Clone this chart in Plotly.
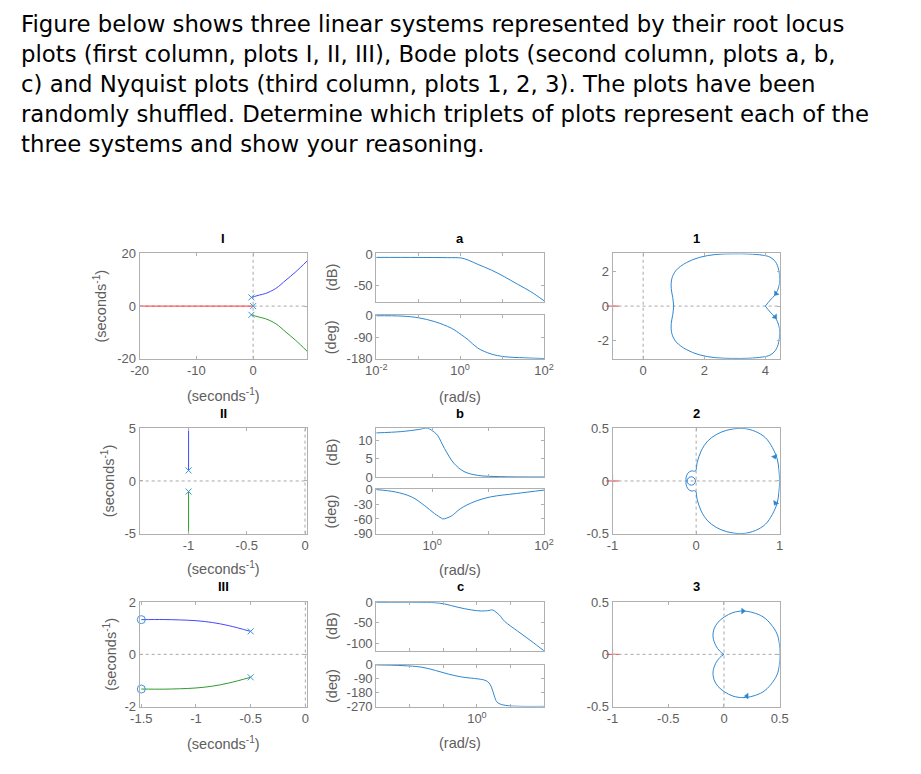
import plotly.graph_objects as go

W, H = 921, 774

# ---------------- text ----------------
intro_lines = [
    "Figure below shows three linear systems represented by their root locus",
    "plots (first column, plots I, II, III), Bode plots (second column, plots a, b,",
    "c) and Nyquist plots (third column, plots 1, 2, 3). The plots have been",
    "randomly shuffled. Determine which triplets of plots represent each of the",
    "three systems and show your reasoning.",
]
rl_titles = ["I", "II", "III"]
bode_titles = ["a", "b", "c"]
nyq_titles = ["1", "2", "3"]

# ---------------- Root locus I ----------------
rl1_blue_x = [-0.3, 0.3, 1.1, 2.2, 4.0, 5.8, 7.5, 9.5]
rl1_blue_y = [3.3, 3.7, 4.2, 4.8, 6.7, 9.9, 13.0, 17.1]
rl1_green_x = [-0.3, 0.3, 1.1, 2.2, 4.0, 5.8, 7.5, 9.5]
rl1_green_y = [-3.3, -3.7, -4.2, -4.8, -6.7, -9.9, -13.0, -17.1]
rl1_red_x = [0.0, -20.0]
rl1_red_y = [0.0, 0.0]
rl1_poles_x = [-0.3, 0.0, -0.3]
rl1_poles_y = [3.3, 0.0, -3.3]

# ---------------- Root locus II ----------------
rl2_blue_x = [-1.0, -1.0]
rl2_blue_y = [1.0, 5.0]
rl2_green_x = [-1.0, -1.0]
rl2_green_y = [-1.0, -5.0]
rl2_poles_x = [-1.0, -1.0]
rl2_poles_y = [1.0, -1.0]

# ---------------- Root locus III ----------------
rl3_blue_x = [-0.5, -0.7, -0.85, -1.0, -1.15, -1.3, -1.5]
rl3_blue_y = [0.88, 1.1, 1.22, 1.29, 1.32, 1.335, 1.33]
rl3_green_x = [-0.5, -0.7, -0.85, -1.0, -1.15, -1.3, -1.5]
rl3_green_y = [-0.88, -1.1, -1.22, -1.29, -1.32, -1.335, -1.33]
rl3_poles_x = [-0.5, -0.5]
rl3_poles_y = [0.88, -0.88]
rl3_zeros_x = [-1.5, -1.5]
rl3_zeros_y = [1.33, -1.33]

# ---------------- Bode a ----------------
ba_mag_w = [0.01, 0.1, 0.5, 1.07, 1.55, 2.63, 5.5, 11.2, 23.4, 47.9, 100]
ba_mag_db = [-5.2, -5.3, -5.6, -6.2, -9.4, -16.1, -25.0, -35.4, -47.4, -58.9, -73.4]
ba_ph_w = [0.01, 0.041, 0.1, 0.25, 0.62, 1.07, 1.55, 2.63, 5.5, 11.2, 34.0, 100]
ba_ph_deg = [0, -1.4, -8.3, -25, -52.6, -80, -101, -136, -161, -172, -177, -180]

# ---------------- Bode b ----------------
bb_mag_w = [0.1, 0.28, 0.56, 0.83, 1.1, 1.26, 1.66, 2.45, 3.7, 6.5, 16.6, 100]
bb_mag_db = [12.05, 12.4, 12.95, 13.3, 12.2, 11.3, 7.8, 3.75, 1.5, 0.45, 0.1, 0.0]
bb_ph_w = [0.1, 0.22, 0.43, 0.72, 1.1, 1.45, 1.55, 2.2, 3.2, 5.6, 11.0, 32.0, 100]
bb_ph_deg = [0, -4.8, -15, -32, -49, -58, -60, -54, -39, -25, -15, -8, -1]

# ---------------- Bode c ----------------
bc_mag_w = [0.001, 0.0178, 0.056, 0.11, 0.275, 0.68, 1.35, 2.1, 2.95, 3.7, 4.7, 6.6, 16.2, 40.7, 100]
bc_mag_db = [0, 0, -0.8, -4, -12, -18.5, -21, -20.2, -18.5, -24, -31, -46, -70, -94, -118.5]
bc_ph_w = [0.001, 0.0059, 0.023, 0.058, 0.14, 0.355, 1.1, 1.74, 2.29, 2.75, 3.3, 3.9, 4.9, 8.5, 21, 100]
bc_ph_deg = [0, -4.3, -14.9, -36, -59.5, -78.7, -91.4, -100, -117, -149, -202, -240, -255, -266, -270, -270]

# ---------------- Nyquist 1 ----------------
n1_up_x = [4.0, 4.16, 4.33, 4.44, 4.47, 4.44, 4.33, 4.15, 3.9, 3.46, 2.92, 2.38, 1.84, 1.41, 1.08, 0.94, 0.92, 0.97, 1.0]
n1_up_y = [0.0, 0.35, 0.68, 1.12, 1.51, 2.09, 2.58, 2.85, 2.96, 3.03, 3.04, 3.0, 2.83, 2.52, 2.08, 1.6, 1.02, 0.5, 0.0]
n1_lo_x = [4.0, 4.16, 4.33, 4.44, 4.47, 4.44, 4.33, 4.15, 3.9, 3.46, 2.92, 2.38, 1.84, 1.41, 1.08, 0.94, 0.92, 0.97, 1.0]
n1_lo_y = [0.0, -0.35, -0.68, -1.12, -1.51, -2.09, -2.58, -2.85, -2.96, -3.03, -3.04, -3.0, -2.83, -2.52, -2.08, -1.6, -1.02, -0.5, 0.0]
n1_arrow_x = [4.35, 4.32]
n1_arrow_y = [0.73, -0.62]

# ---------------- Nyquist 2 ----------------
n2_up_x = [1.0, 0.99, 0.97, 0.91, 0.83, 0.71, 0.55, 0.36, 0.24, 0.14, 0.06, 0.012, -0.008, -0.06, -0.1, -0.12, -0.12]
n2_up_y = [0.0, 0.11, 0.21, 0.32, 0.41, 0.47, 0.50, 0.48, 0.44, 0.38, 0.285, 0.174, 0.095, 0.095, 0.073, 0.032, 0.0]
n2_lo_x = [1.0, 0.99, 0.97, 0.91, 0.83, 0.71, 0.55, 0.36, 0.24, 0.14, 0.06, 0.012, -0.008, -0.06, -0.1, -0.12, -0.12]
n2_lo_y = [0.0, -0.11, -0.21, -0.32, -0.41, -0.47, -0.50, -0.48, -0.44, -0.38, -0.285, -0.174, -0.095, -0.095, -0.073, -0.032, 0.0]
n2_loop_x = [-0.008, -0.023, -0.058, -0.093, -0.108, -0.093, -0.058, -0.023, -0.008]
n2_loop_y = [0.0, 0.028, 0.04, 0.028, 0.0, -0.028, -0.04, -0.028, 0.0]
n2_arrow_x = [0.94, 0.95]
n2_arrow_y = [0.23, -0.21]

# ---------------- Nyquist 3 ----------------
n3_up_x = [0.503, 0.497, 0.476, 0.42, 0.35, 0.26, 0.17, 0.08, 0.006, -0.054, -0.089, -0.098, -0.074, -0.039, 0.0]
n3_up_y = [0.0, 0.10, 0.196, 0.29, 0.36, 0.40, 0.415, 0.40, 0.36, 0.307, 0.244, 0.165, 0.085, 0.032, 0.0]
n3_lo_x = [0.503, 0.497, 0.476, 0.42, 0.35, 0.26, 0.17, 0.08, 0.006, -0.054, -0.089, -0.098, -0.074, -0.039, 0.0]
n3_lo_y = [0.0, -0.10, -0.196, -0.29, -0.36, -0.40, -0.415, -0.40, -0.36, -0.307, -0.244, -0.165, -0.085, -0.032, 0.0]
n3_arrow_x = [0.17, 0.205]
n3_arrow_y = [0.415, -0.40]

crit_x = [-1.0]
crit_y = [0.0]

# ---------------- styling ----------------
C_LINE = "#2f86cf"
C_BLUE = "#4646ff"
C_GREEN = "#2f9a2f"
C_RED = "#ff3a3a"
C_MARK = "#3a97d8"
C_BOX = "#b0b0b0"
C_TICK = "#5e5e5e"
FONT = "Liberation Sans, Arial, sans-serif"
LAB = 14.5
TICK = 13

# page placement compensation (observed offset / scale of the photographed page)
OX, SX = 18.0, 0.984
OY, SY = 13.0, 0.987

def tx(x):
    return max(0.0, (x - OX) / SX)

def ty(y):
    return max(0.0, (y - OY) / SY)

fig = go.Figure()

def ax(i):
    return ("x" if i == 1 else f"x{i}"), ("y" if i == 1 else f"y{i}")

def dom(x0, x1, y0, y1):
    return [tx(x0) / W, tx(x1) / W], [1 - ty(y1) / H, 1 - ty(y0) / H]

base = dict(showline=True, linecolor=C_BOX, linewidth=1, mirror="ticks",
            ticks="inside", ticklen=3, tickcolor=C_BOX, showgrid=False,
            zeroline=False, fixedrange=True,
            tickfont=dict(family=FONT, size=TICK, color=C_TICK))

layout_axes = {}

def fmt(v):
    return f"{v:g}"

def set_axes(i, box, xcfg, ycfg):
    xd, yd = dom(*box)
    xn, yn = ax(i)
    xk = "xaxis" if i == 1 else f"xaxis{i}"
    yk = "yaxis" if i == 1 else f"yaxis{i}"
    for cfg in (xcfg, ycfg):
        if "tickvals" in cfg and "ticktext" not in cfg and cfg.get("type") != "log":
            cfg["ticktext"] = [fmt(v) for v in cfg["tickvals"]]
    layout_axes[xk] = dict(base, domain=xd, anchor=yn, **xcfg)
    layout_axes[yk] = dict(base, domain=yd, anchor=xn, **ycfg)

def line(i, x, y, color, width=1.0, shape="spline"):
    xn, yn = ax(i)
    fig.add_trace(go.Scatter(x=x, y=y, xaxis=xn, yaxis=yn, mode="lines",
                             line=dict(color=color, width=width, shape=shape),
                             showlegend=False, hoverinfo="skip"))

def marks(i, x, y, symbol, size, color, width=1.0, clip=True, angle=0):
    xn, yn = ax(i)
    fig.add_trace(go.Scatter(x=x, y=y, xaxis=xn, yaxis=yn, mode="markers",
                             marker=dict(symbol=symbol, size=size, color=color, angle=angle,
                                         line=dict(color=color, width=width)),
                             cliponaxis=clip, showlegend=False, hoverinfo="skip"))

COLX = {"rl": (139.5, 308), "bode": (377.7, 546.7), "nyq": (615.7, 784)}
ROWS = [(253, 359), (429, 535), (604, 709)]
BODE_ROWS = [((253, 302), (315, 359)), ((429, 478), (490, 535)), ((604, 653), (667, 709))]

def sup(e):
    return f"10<sup>{e}</sup>"

# Row 1
set_axes(1, (*COLX["rl"], *ROWS[0]),
         dict(range=[-20, 9.5], tickvals=[-20, -10, 0]),
         dict(range=[-20, 20], tickvals=[-20, 0, 20]))
dec_a = [0.01, 0.1, 1, 10, 100]
set_axes(2, (*COLX["bode"], *BODE_ROWS[0][0]),
         dict(type="log", range=[-2, 2], tickvals=dec_a, showticklabels=False),
         dict(range=[-75.5, 1.0], tickvals=[-50, 0]))
set_axes(3, (*COLX["bode"], *BODE_ROWS[0][1]),
         dict(type="log", range=[-2, 2], tickvals=dec_a,
              ticktext=[sup(-2), "", sup(0), "", sup(2)]),
         dict(range=[-181, 3], tickvals=[-180, -90, 0]))
set_axes(4, (*COLX["nyq"], *ROWS[0]),
         dict(range=[-1, 4.47], tickvals=[0, 2, 4]),
         dict(range=[-3.06, 3.06], tickvals=[-2, 0, 2]))
# Row 2
set_axes(5, (*COLX["rl"], *ROWS[1]),
         dict(range=[-1.42, 0.017], tickvals=[-1, -0.5, 0]),
         dict(range=[-5, 5], tickvals=[-5, 0, 5]))
dec_b = [0.1, 1, 10, 100]
set_axes(6, (*COLX["bode"], *BODE_ROWS[1][0]),
         dict(type="log", range=[-1, 2], tickvals=dec_b, showticklabels=False),
         dict(range=[0, 13.3], tickvals=[0, 5, 10]))
set_axes(7, (*COLX["bode"], *BODE_ROWS[1][1]),
         dict(type="log", range=[-1, 2], tickvals=dec_b,
              ticktext=["", sup(0), "", sup(2)]),
         dict(range=[-90, 1.4], tickvals=[-90, -60, -30, 0]))
set_axes(8, (*COLX["nyq"], *ROWS[1]),
         dict(range=[-1, 1], tickvals=[-1, 0, 1]),
         dict(range=[-0.5, 0.5], tickvals=[-0.5, 0, 0.5]))
# Row 3
set_axes(9, (*COLX["rl"], *ROWS[2]),
         dict(range=[-1.515, 0.015], tickvals=[-1.5, -1, -0.5, 0]),
         dict(range=[-2, 2], tickvals=[-2, 0, 2]))
dec_c = [0.001, 0.01, 0.1, 1, 10, 100]
set_axes(10, (*COLX["bode"], *BODE_ROWS[2][0]),
         dict(type="log", range=[-3, 2], tickvals=dec_c, showticklabels=False),
         dict(range=[-118.5, 0.5], tickvals=[-100, -50, 0]))
set_axes(11, (*COLX["bode"], *BODE_ROWS[2][1]),
         dict(type="log", range=[-3, 2], tickvals=dec_c,
              ticktext=["", "", "", sup(0), "", ""]),
         dict(range=[-271, 1], tickvals=[-270, -180, -90, 0]))
set_axes(12, (*COLX["nyq"], *ROWS[2]),
         dict(range=[-1, 0.5], tickvals=[-1, -0.5, 0, 0.5]),
         dict(range=[-0.5, 0.5], tickvals=[-0.5, 0, 0.5]))

# dotted zero lines
shapes = []
for i in [1, 4, 5, 8, 9, 12]:
    xn, yn = ax(i)
    dl = dict(color="#a8a8a8", width=1, dash="dot")
    shapes.append(dict(type="line", xref=xn, yref=f"{yn} domain", x0=0, x1=0, y0=0, y1=1,
                       line=dl, layer="below"))
    shapes.append(dict(type="line", xref=f"{xn} domain", yref=yn, x0=0, x1=1, y0=0, y1=0,
                       line=dl, layer="below"))

# RL I
line(1, rl1_red_x, rl1_red_y, C_RED, shape="linear")
line(1, rl1_blue_x, rl1_blue_y, C_BLUE)
line(1, rl1_green_x, rl1_green_y, C_GREEN)
marks(1, rl1_poles_x, rl1_poles_y, "x-thin", 6, C_MARK)
# RL II
line(5, rl2_blue_x, rl2_blue_y, C_BLUE, shape="linear")
line(5, rl2_green_x, rl2_green_y, C_GREEN, shape="linear")
marks(5, rl2_poles_x, rl2_poles_y, "x-thin", 6, C_MARK)
# RL III
line(9, rl3_blue_x, rl3_blue_y, C_BLUE)
line(9, rl3_green_x, rl3_green_y, C_GREEN)
marks(9, rl3_poles_x, rl3_poles_y, "x-thin", 6, C_MARK)
marks(9, rl3_zeros_x, rl3_zeros_y, "circle-open", 8, C_MARK, clip=False)

# Bode
line(2, ba_mag_w, ba_mag_db, C_LINE)
line(3, ba_ph_w, ba_ph_deg, C_LINE)
line(6, bb_mag_w, bb_mag_db, C_LINE)
line(7, bb_ph_w, bb_ph_deg, C_LINE)
line(10, bc_mag_w, bc_mag_db, C_LINE)
line(11, bc_ph_w, bc_ph_deg, C_LINE)

# Nyquist 1
line(4, n1_up_x, n1_up_y, C_LINE)
line(4, n1_lo_x, n1_lo_y, C_LINE)
marks(4, n1_arrow_x[:1], n1_arrow_y[:1], "triangle-down", 5, C_LINE, 0.5, angle=40)
marks(4, n1_arrow_x[1:], n1_arrow_y[1:], "triangle-down", 5, C_LINE, 0.5, angle=-40)
marks(4, crit_x, crit_y, "cross-thin", 9, C_RED, clip=False)
# Nyquist 2
line(8, n2_up_x, n2_up_y, C_LINE)
line(8, n2_lo_x, n2_lo_y, C_LINE)
line(8, n2_loop_x, n2_loop_y, C_LINE)
marks(8, n2_arrow_x[:1], n2_arrow_y[:1], "triangle-down", 5, C_LINE, 0.5, angle=-20)
marks(8, n2_arrow_x[1:], n2_arrow_y[1:], "triangle-down", 5, C_LINE, 0.5, angle=30)
marks(8, crit_x, crit_y, "cross-thin", 9, C_RED, clip=False)
# Nyquist 3
line(12, n3_up_x, n3_up_y, C_LINE)
line(12, n3_lo_x, n3_lo_y, C_LINE)
marks(12, n3_arrow_x[:1], n3_arrow_y[:1], "triangle-right", 5, C_LINE, 0.5)
marks(12, n3_arrow_x[1:], n3_arrow_y[1:], "triangle-left", 5, C_LINE, 0.5)
marks(12, crit_x, crit_y, "cross-thin", 9, C_RED, clip=False)

# annotations
ann = []

def txt(x, y, s, size=12, color="#262626", bold=False, angle=0, family=FONT, xanchor="center"):
    if bold:
        s = f"<b>{s}</b>"
    ann.append(dict(x=tx(x) / W, y=1 - ty(y) / H, xref="paper", yref="paper", text=s,
                    showarrow=False, xanchor=xanchor, yanchor="middle", textangle=angle,
                    font=dict(family=family, size=size, color=color)))

for k, s in enumerate(intro_lines):
    txt(17, 22 + 30.2 * k, s, size=22.8, color="#000000",
        family="DejaVu Sans, Verdana, sans-serif", xanchor="left")

cx_rl = sum(COLX["rl"]) / 2
cx_bode = sum(COLX["bode"]) / 2
cx_nyq = sum(COLX["nyq"]) / 2
title_y = [238, 414, 588]
for r in range(3):
    txt(cx_rl, title_y[r], rl_titles[r], bold=True, color="#000000", size=13)
    txt(cx_bode, title_y[r], bode_titles[r], bold=True, color="#000000", size=13)
    txt(cx_nyq, title_y[r], nyq_titles[r], bold=True, color="#000000", size=13)

sec = "(seconds<sup>-1</sup>)"
xlab_rl_y = [395, 570, 746]
xlab_bode_y = [397, 572, 746]
ylab_rl_x = [100, 108, 110]
for r in range(3):
    txt(cx_rl, xlab_rl_y[r], sec, color=C_TICK, size=LAB)
    txt(cx_bode, xlab_bode_y[r], "(rad/s)", color=C_TICK, size=LAB)
    txt(ylab_rl_x[r], sum(ROWS[r]) / 2, sec, color=C_TICK, angle=-90, size=LAB)
    txt(332.5, sum(BODE_ROWS[r][0]) / 2, "(dB)", color=C_TICK, angle=-90, size=LAB)
    txt(332.5, sum(BODE_ROWS[r][1]) / 2, "(deg)", color=C_TICK, angle=-90, size=LAB)

fig.update_layout(width=W, height=H, margin=dict(l=0, r=0, t=0, b=0),
                  paper_bgcolor="white", plot_bgcolor="white",
                  shapes=shapes, annotations=ann, showlegend=False, **layout_axes)

fig.write_html("out.html")
